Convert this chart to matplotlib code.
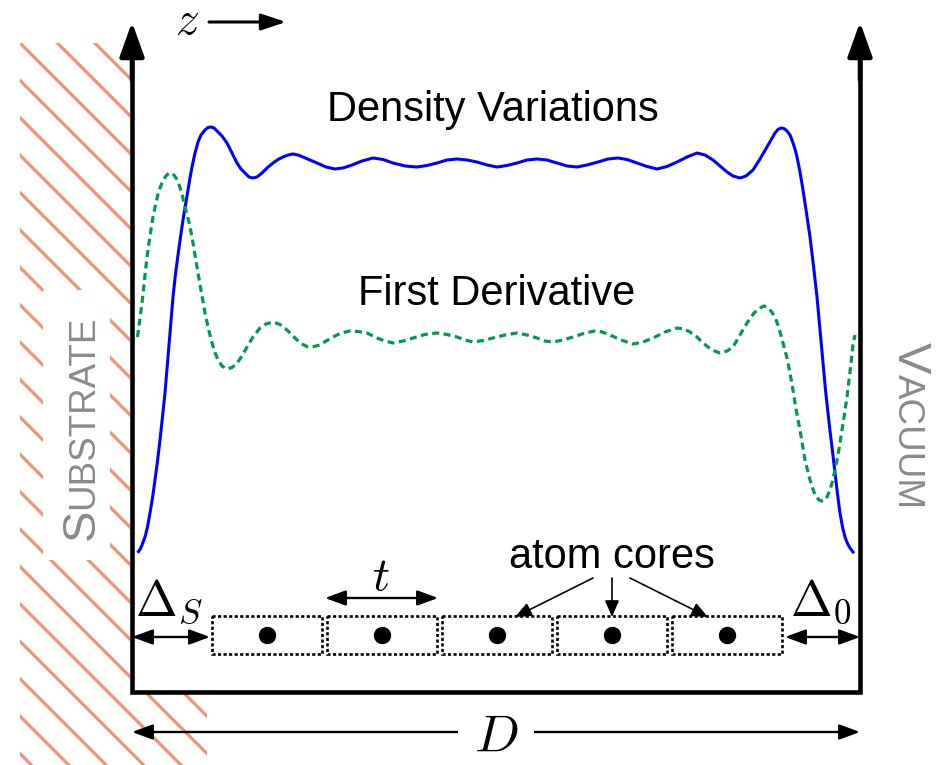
import numpy as np
import matplotlib
matplotlib.use("Agg")
import matplotlib.pyplot as plt
from matplotlib.patches import Polygon, Rectangle
from matplotlib.collections import LineCollection

plt.rcParams['font.family'] = ['Liberation Sans', 'DejaVu Sans']
plt.rcParams['mathtext.fontset'] = 'cm'

# --- sketch data, in drawing units (canvas pixels, y grows downward) ---
# density variation n(z)
z_density = [138.5, 140, 142, 145, 147.5, 150, 152.5, 155, 157.5, 160, 162.5, 165, 167,
             169, 171, 173, 175.5, 178, 180.5, 183, 185.5, 188, 190, 192, 195, 198, 201,
             205, 208, 211, 214, 217, 222, 227, 232, 237, 241, 245, 249, 253, 257, 262,
             267, 273, 278, 283, 288, 293, 298, 303, 310, 317, 326, 335, 343, 352, 362,
             373, 383, 393, 405, 417, 427, 437, 447, 457, 467, 477, 487, 497, 507, 517,
             527, 537, 547, 557, 567, 577, 587, 598, 608, 618, 627, 637, 647, 657, 667,
             677, 687, 697, 705, 713, 720, 727, 733, 740, 746, 753, 760, 767, 771, 775,
             778, 781, 784, 787, 790, 792, 795, 797, 800, 803, 806.5, 810, 813.5, 817,
             820, 823, 825.5, 828, 830, 832, 835, 837.5, 840, 842.5, 845, 847.5, 850,
             853]
n_density = [551.5, 549.5, 545, 537, 527, 513, 498, 480, 461, 440, 417, 393, 369,
             345, 321, 297, 274, 255, 237, 220, 205, 190, 178, 167, 153, 142, 135,
             130, 127.5, 127, 128, 131, 136, 143, 153, 163, 169, 173, 177, 178, 177, 173,
             168, 163, 159.5, 157, 155, 154, 155, 157, 160, 163, 167, 169, 168, 165, 161,
             158, 159.5, 163, 166, 167, 165.5, 163, 160, 159, 160, 162, 165, 167, 165.5, 163,
             160, 159, 160, 163, 166, 167, 165, 162, 159, 158, 159.5, 163, 166.5, 169, 166.5,
             162, 157, 153, 155, 160, 166, 172, 176, 178, 176, 170, 159, 147, 140, 133,
             129.5, 128, 128.5, 131, 135, 140, 149, 157, 172, 190, 213, 237, 266, 297,
             330, 363, 390, 413, 431, 447, 473, 494, 513, 527, 537, 543.5, 548,
             552]

# first derivative dn/dz
z_deriv = [137.5, 140, 142, 144.5, 147, 150, 153, 155.5, 158, 160, 162, 164, 166, 168,
           170, 172, 174, 176, 178, 180, 182, 185, 189, 192, 195, 198, 201.5, 205,
           208.5, 212, 215, 218, 222, 227, 232, 237, 242, 247, 253, 260, 266, 273,
           280, 287, 292, 297, 302, 308, 314, 320, 326, 333, 341, 350, 358, 367, 377,
           385, 393, 403, 413, 425, 437, 447, 457, 465, 473, 483, 493, 505, 517, 527,
           537, 545, 553, 563, 573, 585, 595, 602, 610, 621, 633, 643, 653, 665, 677,
           684, 690, 697, 703, 712, 720, 727, 733, 740, 747, 754, 760, 764, 767, 771,
           775, 779, 783, 787, 790, 793, 796, 800, 805, 810, 815, 819, 822, 825, 827,
           830, 832, 834.5, 837, 839.5, 842, 844.5, 847, 850, 853, 855]
d_deriv = [337, 318, 303, 280, 257, 236, 217, 205, 194, 188, 183, 179, 176, 174,
           173, 173.5, 175, 178, 182, 187.5, 194, 207, 222, 237, 255, 273, 293, 313,
           329, 343, 352.5, 360, 366, 369, 367.5, 363, 356, 347, 337, 328, 324, 322,
           324.5, 330, 335, 340, 344, 347, 346.5, 345, 341, 337, 333, 331, 331.5, 333, 338,
           341, 343, 341, 338, 334.5, 333, 334.5, 337, 340, 342, 340.5, 338, 335, 333, 335,
           338, 341, 342, 340, 337, 333, 331, 332, 335, 340, 344, 342, 338, 332, 328,
           329, 332, 337, 343, 350, 353, 351, 347, 335, 323, 313, 308, 306, 307, 311,
           317, 328, 343, 358, 373, 390, 409, 430, 460, 480, 495, 500, 501, 500, 497,
           490, 483, 472, 460, 446, 430, 414, 397, 372, 345, 335]

# atom cores and their cells
core_z = [267, 382, 497, 612, 727]
core_y = 635
cell_width = 110
cell_top, cell_bottom = 616, 654

# frame: substrate side, vacuum side
z_left, z_right = 132, 860
frame_top, frame_bottom = 22, 692

substrate_outline = [(20, 43), (130, 43), (130, frame_bottom), (207, frame_bottom),
                     (207, 765), (20, 765)]

blue = '#0000FF'
green = '#00994D'
salmon = '#EC9678'
grey = '#8A8A8A'


def arrow(ax, start, end, style, lw, hl, hw):
    ax.annotate('', xy=end, xytext=start,
                arrowprops=dict(arrowstyle=f'{style},head_length={hl},head_width={hw}',
                                lw=lw, color='black', shrinkA=0, shrinkB=0,
                                mutation_scale=1))


fig = plt.figure(figsize=(9.42, 7.65), dpi=100)
ax = fig.add_axes([0, 0, 1, 1])
ax.set_xlim(0, 942)
ax.set_ylim(765, 0)
ax.axis('off')

# hatched substrate
clip = Polygon(substrate_outline, closed=True, facecolor='none', edgecolor='none')
ax.add_patch(clip)
segs = [[(0, c), (942, 942 + c)] for c in np.arange(23 - 37.4 * 6, 765, 37.4)]
lc = LineCollection(segs, colors=salmon, linewidths=2.3, zorder=1)
ax.add_collection(lc)
lc.set_clip_path(clip)
ax.add_patch(Rectangle((43, 290), 67, 270, facecolor='white', edgecolor='none', zorder=2))

# curves
ax.plot(z_density, n_density, color=blue, lw=2.2, zorder=4,
        solid_joinstyle='round')
ax.plot(z_deriv, d_deriv, color=green, lw=2.3, ls=(0, (2.2, 1.4)), zorder=4)

# frame
ax.plot([z_left, z_left, z_right, z_right], [60, frame_bottom, frame_bottom, 60],
        color='black', lw=3.3, solid_joinstyle='miter', solid_capstyle='butt', zorder=5)
arrow(ax, (z_left, 80), (z_left, frame_top), '-|>', 3.3, 21, 7.5)
arrow(ax, (z_right, 80), (z_right, frame_top), '-|>', 3.3, 21, 7.5)

# z direction
arrow(ax, (209, 22), (286, 22), '-|>', 2.2, 15, 5)
ax.text(187, 22, '$z$', fontsize=34, ha='center', va='center')

# cells and cores
for cz in core_z:
    ax.add_patch(Rectangle((cz - cell_width / 2, cell_top), cell_width,
                           cell_bottom - cell_top, fill=False, edgecolor='black',
                           lw=1.9, ls=(0, (1.2, 0.9)), zorder=3))
ax.plot(core_z, [core_y] * len(core_z), 'o', color='black', ms=11.5, zorder=4)

# dimension arrows
arrow(ax, (z_left, 637), (210, 637), '<|-|>', 1.7, 12.5, 4.6)
arrow(ax, (785, 637), (z_right, 637), '<|-|>', 1.7, 12.5, 4.6)
arrow(ax, (325, 598), (438, 598), '<|-|>', 1.7, 12.5, 4.6)
arrow(ax, (z_left, 732), (z_right, 732), '<|-|>', 1.7, 12.5, 4.6)

ax.text(135, 615, r'$\Delta_S$', fontsize=36, ha='left', va='baseline')
ax.text(790, 615, r'$\Delta_0$', fontsize=36, ha='left', va='baseline')
ax.text(381, 590, '$t$', fontsize=34, ha='center', va='baseline')
ax.text(496, 752, '$D$', fontsize=38, ha='center', va='baseline', zorder=6,
        bbox=dict(facecolor='white', edgecolor='none', boxstyle='square,pad=0.3'))

# atom core pointers
for tail, tip in [((593, 578), (515, 617)), ((612, 578), (612, 617)),
                  ((630, 578), (708, 617))]:
    arrow(ax, tail, tip, '-|>', 1.2, 10, 4.3)

# labels
ax.text(493, 121, 'Density Variations', fontsize=30, ha='center', va='baseline')
ax.text(497, 305, 'First Derivative', fontsize=30, ha='center', va='baseline')
ax.text(612, 568, 'atom cores', fontsize=30, ha='center', va='baseline')

# small-caps side labels
fig.canvas.draw()
s1 = ax.text(93.5, 540, 'S', fontsize=34, color=grey, rotation=90,
             rotation_mode='anchor', ha='left', va='baseline', zorder=3)
adv = s1.get_window_extent(fig.canvas.get_renderer()).height
ax.text(93.5, 540 - adv, 'UBSTRATE', fontsize=26.5, color=grey, rotation=90,
        rotation_mode='anchor', ha='left', va='baseline', zorder=3)

v1 = ax.text(898, 342, 'V', fontsize=34, color=grey, rotation=-90,
             rotation_mode='anchor', ha='left', va='baseline', zorder=3)
adv = v1.get_window_extent(fig.canvas.get_renderer()).height
ax.text(898, 342 + adv, 'ACUUM', fontsize=26.5, color=grey, rotation=-90,
        rotation_mode='anchor', ha='left', va='baseline', zorder=3)

fig.savefig('out.png', dpi=100)
